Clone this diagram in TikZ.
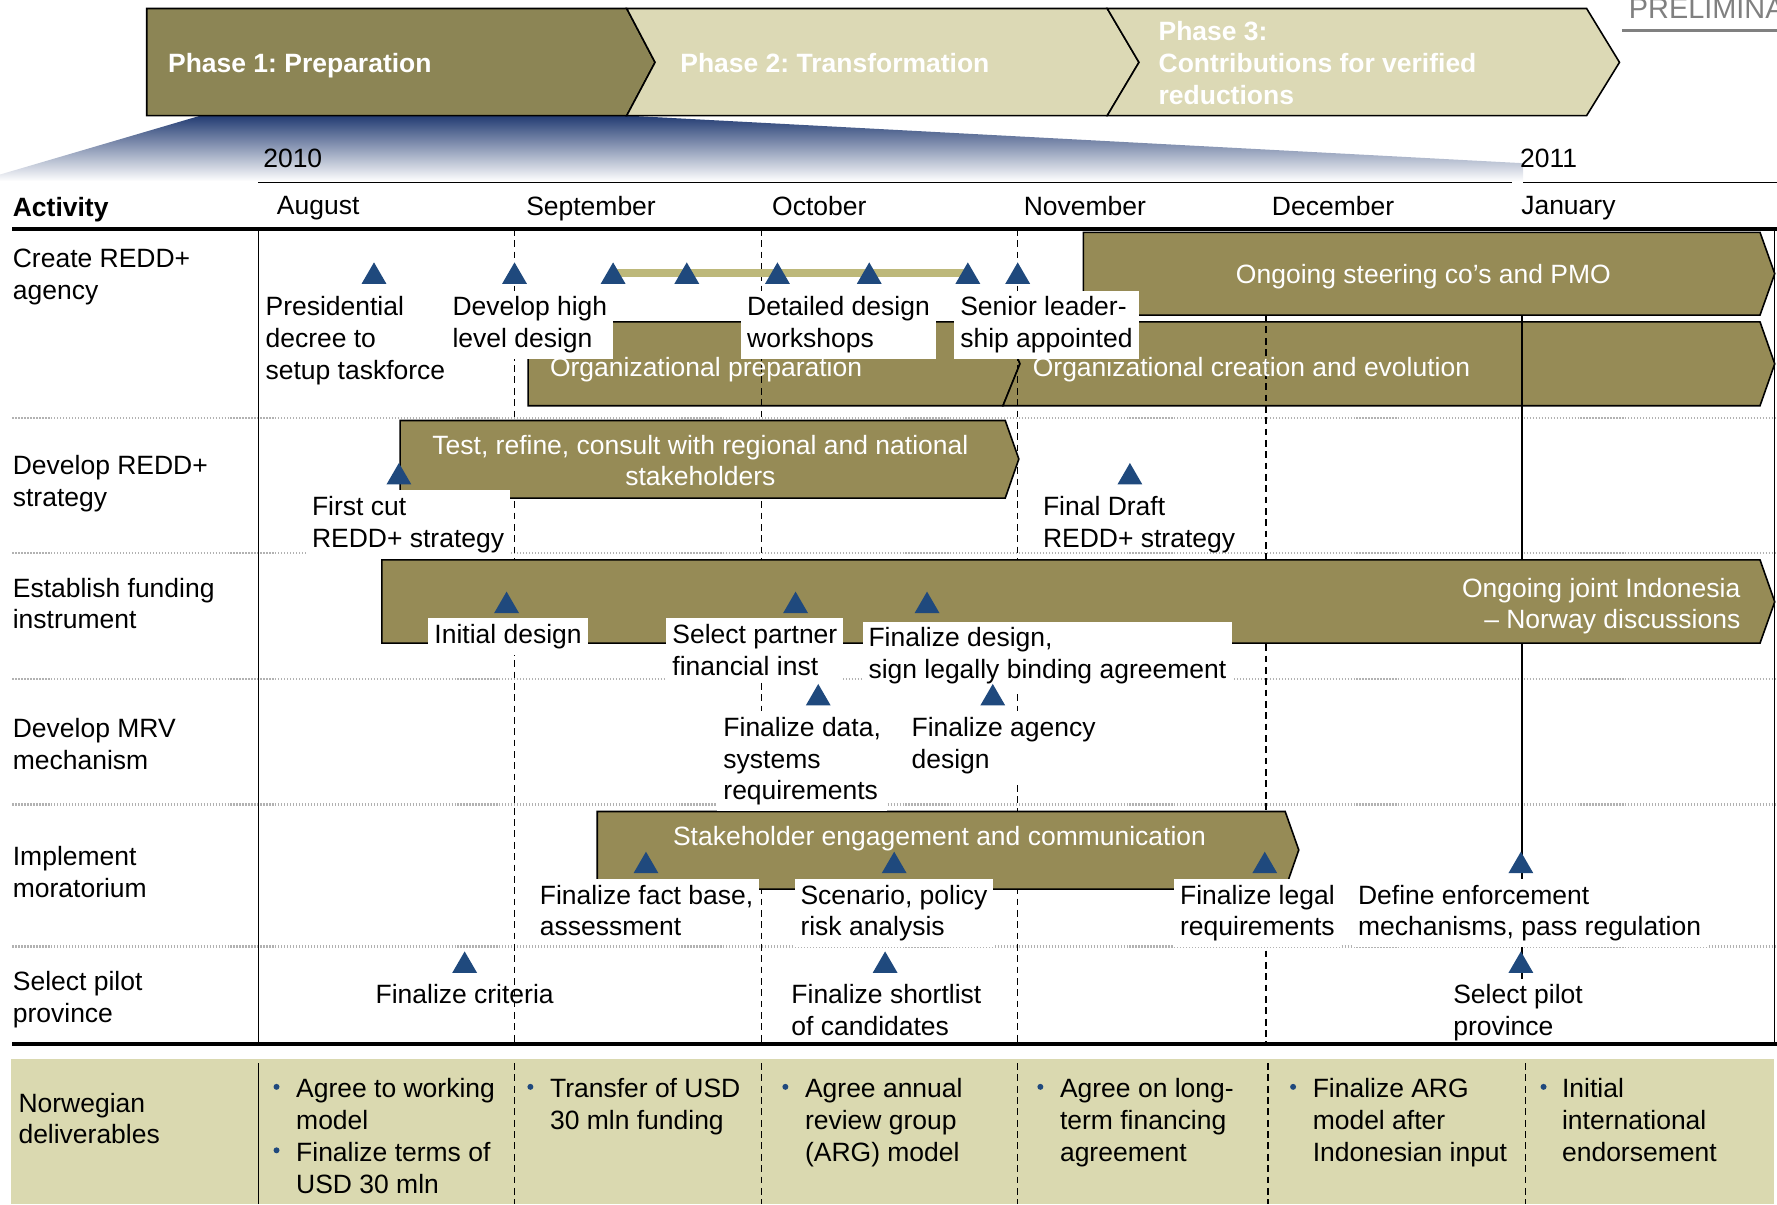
\documentclass[tikz,border=0pt]{standalone}
\usepackage{fontspec}
\setmainfont{Liberation Sans}
\usetikzlibrary{calc}
\frenchspacing

\definecolor{barolive}{RGB}{150,139,86}
\definecolor{phasedark}{RGB}{140,133,85}
\definecolor{phaselight}{RGB}{220,217,181}
\definecolor{linkolive}{RGB}{189,184,122}
\definecolor{msblue}{RGB}{31,73,125}
\definecolor{delivbg}{RGB}{218,217,176}
\definecolor{wedgeblue}{RGB}{35,60,115}

\tikzset{
	lbl/.style={anchor=north west, inner sep=0pt, align=left},
	wlbl/.style={lbl, fill=white, inner sep=3pt, xshift=-3pt, yshift=3pt},
	clbl/.style={anchor=north, inner sep=0pt, align=center},
	bartext/.style={text=white},
	bar/.style={fill=barolive, draw=black, line width=0.8pt},
	phase/.style={draw=black, line width=0.8pt},
	monthline/.style={dash pattern=on 3.4pt off 2.3pt, line width=0.7pt},
	rowsep/.style={gray!60, line width=1.2pt, dash pattern=on 0.6pt off 0.9pt},
}

\newcommand{\milestone}[2]{\fill[msblue] (#1-11,#2+9.5) -- (#1+11,#2+9.5) -- (#1,#2-9.5) -- cycle;}
\newcommand{\delivdot}[2]{\fill[msblue] (#1,#2) circle (1.5pt);}

\begin{document}
\begin{tikzpicture}[x=0.02cm, y=-0.02cm, font=\fontsize{13.3}{15.94}\selectfont]
		\useasboundingbox (0,0) rectangle (1568,1062.4);

		% zoom wedge under phase 1
		\shade[top color=wedgeblue, bottom color=white] (177,102) -- (553,102) -- (1344,144) -- (1344,160) -- (0,160) -- (0,154) -- cycle;

		% phases
		\draw[phase, fill=phasedark] (129.5,7.5) -- (553,7.5) -- (578,55) -- (553,102) -- (129.5,102) -- cycle;
		\draw[phase, fill=phaselight] (553,7.5) -- (977,7.5) -- (1005,55) -- (977,102) -- (553,102) -- (578,55) -- cycle;
		\draw[phase, fill=phaselight] (977,7.5) -- (1400,7.5) -- (1429,55) -- (1400,102) -- (977,102) -- (1005,55) -- cycle;
		\node[lbl, text=white] (ph1) at (148,46.5) {\bfseries Phase 1: Preparation};
		\node[lbl, text=white] (ph2) at (600,46.5) {\bfseries Phase 2: Transformation};
		\node[lbl, text=white] (ph3) at (1022,18.5) {\bfseries Phase 3:\\\bfseries Contributions for verified\\\bfseries reductions};

		\begin{scope}
			\clip (0,0) rectangle (1568,1062.4);
			\node[anchor=base west, inner sep=0pt, text=gray, font=\fontsize{14.5}{17}\selectfont] (prelim) at (1437,16) {PRELIMINARY};
			\draw[gray, line width=1.2pt] (1431,27) -- (1568,27);
		\end{scope}

		% time axis
		\draw[line width=0.8pt] (228,161) -- (1334,161);
		\draw[line width=0.8pt] (1344,161) -- (1568,161);
		\node[lbl] (y2010) at (232,131.5) {2010};
		\node[lbl] (y2011) at (1341,131.5) {2011};
		\node[lbl] (act) at (11,173.5) {\bfseries Activity};
		\node[lbl] (aug) at (244,172.5) {August};
		\node[lbl] (sep) at (464,172.5) {September};
		\node[lbl] (oct) at (681,172.5) {October};
		\node[lbl] (nov) at (903,172.5) {November};
		\node[lbl] (dec) at (1122,172.5) {December};
		\node[lbl] (jan) at (1342,172.5) {January};

		% deliverables band
		\fill[delivbg] (10,934) rectangle (1565,1062.4);

		% organisation bars (under the grid)
		\draw[bar] (466,284) -- (885,284) -- (900,321) -- (885,358) -- (466,358) -- cycle;
		\draw[bar] (885,284) -- (1553,284) -- (1566,321) -- (1553,358) -- (885,358) -- (900,321) -- cycle;

		% grid
		\foreach \y in {369,488,599,710,835}
			\draw[rowsep] (11,\y) -- (1568,\y);
		\foreach \x in {454,672,898}
			\draw[monthline] (\x,202) -- (\x,921);
		\draw[monthline] (1117,278) -- (1117,921);
		\draw[line width=0.8pt] (1343,278) -- (1343,921);
		\draw[line width=0.8pt] (228,202) -- (228,921);
		\draw[line width=0.6pt] (1566,202) -- (1566,921);
		\draw[line width=0.8pt] (228,938) -- (228,1062.4);
		\foreach \x in {454,672,898,1119,1346}
			\draw[monthline] (\x,938) -- (\x,1062.4);

		% activity bars
		\draw[bar] (956,205) -- (1553,205) -- (1566,241.5) -- (1553,278) -- (956,278) -- cycle;
		\draw[bar] (353,371) -- (887,371) -- (899,405) -- (887,439.5) -- (353,439.5) -- cycle;
		\draw[bar] (337,494) -- (1553,494) -- (1566,531) -- (1553,567.5) -- (337,567.5) -- cycle;
		\draw[bar] (527,716) -- (1134,716) -- (1146,750) -- (1134,784.5) -- (527,784.5) -- cycle;
		\draw[linkolive, line width=4pt] (541,241) -- (854,241);

		\node[clbl, bartext] (steer) at (1256,233) {Ongoing steering co’s and PMO};
		\node[lbl, bartext] (orgprep) at (485,315) {Organizational preparation};
		\node[lbl, bartext] (orgcre) at (911,315) {Organizational creation and evolution};
		\node[clbl, bartext] (test) at (618,383.5) {Test, refine, consult with regional and national\\stakeholders};
		\node[anchor=north east, inner sep=0pt, align=right, bartext] (joint) at (1536,509.5) {Ongoing joint Indonesia\\– Norway discussions};
		\node[clbl, bartext] (stake) at (829,728.5) {Stakeholder engagement and communication};

		% row titles
		\node[lbl] (r1) at (11,219.5) {Create REDD+\\agency};
		\node[lbl] (r2) at (11,401.5) {Develop REDD+\\strategy};
		\node[lbl] (r3) at (11,509.5) {Establish funding\\instrument};
		\node[lbl] (r4) at (11,633.5) {Develop MRV\\mechanism};
		\node[lbl] (r5) at (11,746.5) {Implement\\moratorium};
		\node[lbl] (r6) at (11,856.5) {Select pilot\\province};
		\node[lbl] (r7) at (16,964) {Norwegian\\deliverables};

		% milestone labels
		\node[lbl] (decree) at (234,261.5) {Presidential\\decree to\\setup taskforce};
		\node[wlbl] (hld) at (399,261.5) {Develop high\\level design};
		\node[wlbl] (wshop) at (659,261.5) {Detailed design\\workshops};
		\node[wlbl] (senior) at (847,261.5) {Senior leader-\\ship appointed};
		\node[wlbl] (firstcut) at (275,437.5) {First cut\\REDD+ strategy};
		\node[lbl] (final) at (920,437.5) {Final Draft\\REDD+ strategy};
		\node[wlbl] (init) at (383,550.5) {Initial design};
		\node[wlbl] (partner) at (593,550.5) {Select partner\\financial inst};
		\node[wlbl] (legal) at (766,553.5) {Finalize design,\\sign legally binding agreement};
		\node[wlbl] (data) at (638,632.5) {Finalize data,\\systems\\requirements};
		\node[wlbl] (agency) at (804,632.5) {Finalize agency\\design};
		\node[wlbl] (fact) at (476,780.5) {Finalize fact base,\\assessment};
		\node[wlbl] (scen) at (706,780.5) {Scenario, policy\\risk analysis};
		\node[wlbl] (legreq) at (1041,780.5) {Finalize legal\\requirements};
		\node[wlbl] (enf) at (1198,780.5) {Define enforcement\\mechanisms, pass regulation};
		\node[clbl] (crit) at (410,868.5) {Finalize criteria};
		\node[lbl] (short) at (698,868.5) {Finalize shortlist\\of candidates};
		\node[wlbl] (pilot) at (1282,868.5) {Select pilot\\province};

		% header and bottom rules
		\draw[line width=2pt] (11,202) -- (1568,202);
		\draw[line width=2pt] (11,921) -- (1568,921);

		% milestones
		\foreach \x in {330,454,541,606,686,767,854,898}
			{\milestone{\x}{241}}
		\foreach \x in {352,997}
			{\milestone{\x}{418}}
		\foreach \x in {447,702,818}
			{\milestone{\x}{531.5}}
		\foreach \x in {722,876}
			{\milestone{\x}{613}}
		\foreach \x in {570,789,1116,1342}
			{\milestone{\x}{761}}
		\foreach \x in {410,781,1342}
			{\milestone{\x}{849}}

		% Norwegian deliverables
		\node[lbl] (d1) at (261,951.5) {Agree to working\\model\\Finalize terms of\\USD 30 mln};
		\node[lbl] (d2) at (485,951.5) {Transfer of USD\\30 mln funding};
		\node[lbl] (d3) at (710,951.5) {Agree annual\\review group\\(ARG) model};
		\node[lbl] (d4) at (935,951.5) {Agree on long-\\term financing\\agreement};
		\node[lbl] (d5) at (1158,951.5) {Finalize ARG\\model after\\Indonesian input};
		\node[lbl] (d6) at (1378,951.5) {Initial\\international\\endorsement};
		\foreach \x in {244,468,693,918,1141,1362}
			{\delivdot{\x}{959}}
		\delivdot{244}{1015}
	\end{tikzpicture}
\end{document}
